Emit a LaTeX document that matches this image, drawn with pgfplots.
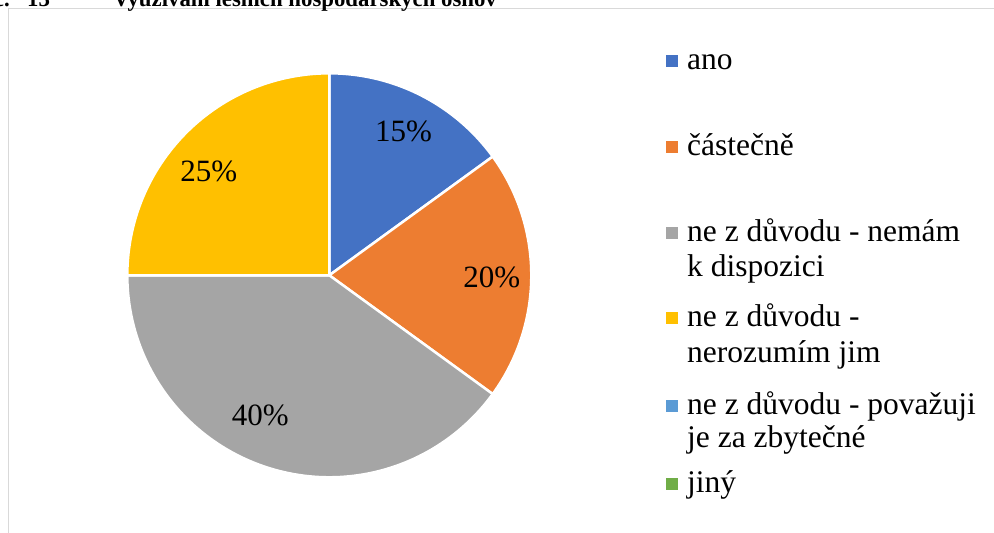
\documentclass[border=0pt]{standalone}
\usepackage{pgfplots}
\pgfplotsset{compat=1.18}
\usepackage{fontspec}
\setmainfont{Liberation Serif}
\definecolor{cA}{HTML}{4472C4}
\definecolor{cB}{HTML}{ED7D31}
\definecolor{cC}{HTML}{A5A5A5}
\definecolor{cD}{HTML}{FFC000}
\definecolor{cE}{HTML}{5B9BD5}
\definecolor{cF}{HTML}{70AD47}
\definecolor{frame}{HTML}{D9D9D9}
% values in percent
\def\vA{15}\def\vB{20}\def\vC{40}\def\vD{25}\def\vE{0}\def\vF{0}
\pgfmathsetmacro\aA{90}
\pgfmathsetmacro\aB{\aA-3.6*\vA}
\pgfmathsetmacro\aC{\aB-3.6*\vB}
\pgfmathsetmacro\aD{\aC-3.6*\vC}
\pgfmathsetmacro\aE{\aD-3.6*\vD}
\newcommand\legkey[3]{% color, baseline y (pt), text
  \fill[#1] (666pt,#2pt+3pt) rectangle (678pt,#2pt+15pt);
  \node[anchor=base west, inner sep=0pt, font=\fontsize{31.5}{35}\selectfont] at (687pt,#2pt) {#3};}
\newcommand\legline[2]{% baseline y (pt), text
  \node[anchor=base west, inner sep=0pt, font=\fontsize{31.5}{35}\selectfont] at (687pt,#1pt) {#2};}
\begin{document}
\begin{tikzpicture}
\useasboundingbox (0pt,0pt) rectangle (994pt,533pt);
\clip (0pt,0pt) rectangle (994pt,533pt);
\draw[color=frame, line width=1.2pt] (8.7pt,524.3pt) rectangle (1100pt,-50pt);
\node[anchor=base east, inner sep=0pt, font=\fontsize{22.8}{27}\selectfont\bfseries] at (10pt,526.5pt) {Graf č.};
\node[anchor=base west, inner sep=0pt, font=\fontsize{22.8}{27}\selectfont\bfseries] at (27pt,526.5pt) {13};
\node[anchor=base west, inner sep=0pt, font=\fontsize{22.8}{27}\selectfont\bfseries] at (113pt,526.5pt) {Využívání lesních hospodářských osnov};
\begin{axis}[
  at={(329.3pt,257.7pt)}, anchor=origin,
  hide axis, scale only axis,
  x=202pt, y=202pt,
  xmin=-1, xmax=1, ymin=-1, ymax=1,
  clip=false,
]
\addplot[fill=cA, draw=white, line width=2.5pt, line join=round, domain={\aB}:{\aA}, samples=60] ({cos(x)},{sin(x)}) -- (0,0) -- cycle;
\addplot[fill=cB, draw=white, line width=2.5pt, line join=round, domain={\aC}:{\aB}, samples=60] ({cos(x)},{sin(x)}) -- (0,0) -- cycle;
\addplot[fill=cC, draw=white, line width=2.5pt, line join=round, domain={\aD}:{\aC}, samples=100] ({cos(x)},{sin(x)}) -- (0,0) -- cycle;
\addplot[fill=cD, draw=white, line width=2.5pt, line join=round, domain={\aE}:{\aD}, samples=60] ({cos(x)},{sin(x)}) -- (0,0) -- cycle;
\node[anchor=base, font=\fontsize{31}{35}\selectfont] at (axis cs:0.367,0.661) {\vA\%};
\node[anchor=base, font=\fontsize{31}{35}\selectfont] at (axis cs:0.804,-0.061) {\vB\%};
\node[anchor=base, font=\fontsize{31}{35}\selectfont] at (axis cs:-0.342,-0.745) {\vC\%};
\node[anchor=base, font=\fontsize{31}{35}\selectfont] at (axis cs:-0.596,0.463) {\vD\%};
\end{axis}
\legkey{cA}{463}{ano}
\legkey{cB}{377}{částečně}
\legkey{cC}{291}{ne z důvodu - nemám}
\legline{256}{k dispozici}
\legkey{cD}{206}{ne z důvodu -}
\legline{170}{nerozumím jim}
\legkey{cE}{118}{ne z důvodu - považuji}
\legline{85}{je za zbytečné}
\legkey{cF}{40}{jiný}
\end{tikzpicture}
\end{document}
